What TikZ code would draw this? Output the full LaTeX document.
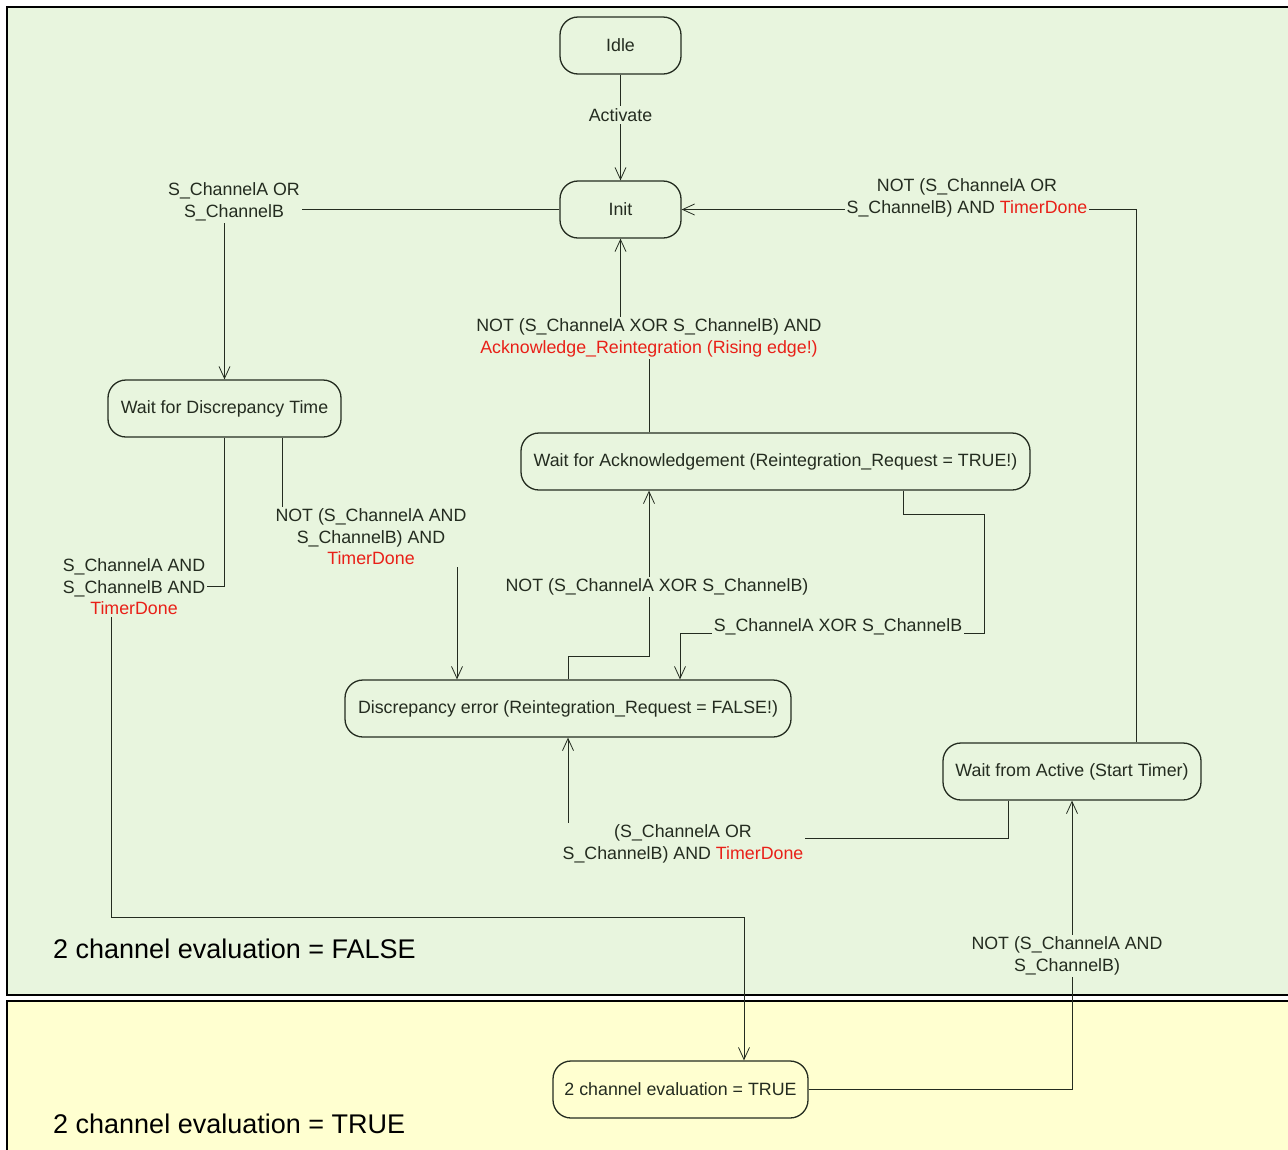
\documentclass[tikz,border=0pt]{standalone}
\usepackage{fontspec}
\setmainfont{Liberation Sans}
\usetikzlibrary{arrows.meta}
\definecolor{bggreen}{RGB}{232,245,222}
\definecolor{bgyellow}{RGB}{255,255,208}
\definecolor{tred}{RGB}{232,32,24}
\definecolor{linec}{RGB}{36,44,32}
\newcommand{\usc}{\char`\_}
\newcommand{\rd}[1]{\textcolor{tred}{#1}}
\begin{document}
\begin{tikzpicture}[x=1pt,y=-1pt,
  every node/.style={font=\fontsize{17.8}{21.5}\selectfont, text=linec},
  state/.style={draw=linec, line width=1.3pt, rounded corners=18pt, minimum height=57pt, inner sep=0pt},
  conn/.style={draw=linec, line width=0.8pt, -{Straight Barb[length=12pt,width=11pt]}},
  lbl/.style={align=center, inner sep=2pt},
  lblg/.style={lbl, fill=bggreen},
  region/.style={draw=black, line width=1.6pt},
  regtext/.style={font=\fontsize{27}{30}\selectfont, text=black, anchor=west, inner sep=0pt}]
\useasboundingbox (0,0) rectangle (1288,1149);
\clip (0,0) rectangle (1288,1149);
% regions
\path[region, fill=bggreen] (7,7) rectangle (1300,995);
\path[region, fill=bgyellow] (7,1001) rectangle (1300,1170);
\node[regtext] (rfalse) at (53,949) {2 channel evaluation = FALSE};
\node[regtext] (rtrue) at (53,1124) {2 channel evaluation = TRUE};
% states
\node[state, minimum width=121pt] (idle) at (620.5,45.5) {Idle};
\node[state, minimum width=121pt] (init) at (620.5,209.5) {Init};
\node[state, minimum width=233pt] (wdt) at (224.5,408.5) {Wait for Discrepancy Time};
\node[state, minimum width=509pt] (ack) at (775.5,461.5) {Wait for Acknowledgement (Reintegration\usc Request = TRUE!)};
\node[state, minimum width=446pt] (derr) at (568,708.5) {Discrepancy error (Reintegration\usc Request = FALSE!)};
\node[state, minimum width=258pt] (wfa) at (1072,771.5) {Wait from Active (Start Timer)};
\node[state, minimum width=255pt] (true) at (680.5,1089.5) {2 channel evaluation = TRUE};
% connectors
\draw[conn] (idle) -- (init);
\draw[conn] (init.west) -| (wdt.north);
\draw[conn] (1136,0 |- wfa.north) |- (init.east);
\draw[conn] (649,0 |- ack.north) -- (649,338) -- (620.5,338) -- (init.south);
\draw[conn] (282,0 |- wdt.south) -- (282,537) -- (457,537) -- (457,0 |- derr.north);
\draw[conn] (wdt.south) |- (111,586) -- (111,917) -| (744,0 |- true.north);
\draw[conn] (903,0 |- ack.south) |- (984,514) |- (680,633) -- (680,0 |- derr.north);
\draw[conn] (derr.north) |- (649,656) -- (649,0 |- ack.south);
\draw[conn] (1008,0 |- wfa.south) |- (568,838) -- (derr.south);
\draw[conn] (true.east) -| (wfa.south);
% labels
\node[lblg] (lact) at (620.5,115) {Activate};
\node[lblg] (lor) at (234,202) {S\usc ChannelA OR\\S\usc ChannelB};
\node[lblg] (lnotor) at (967,198) {NOT (S\usc ChannelA OR\\S\usc ChannelB) AND \rd{TimerDone}};
\node[lblg] (lackr) at (649,338) {NOT (S\usc ChannelA XOR S\usc ChannelB) AND\\\rd{Acknowledge\usc Reintegration (Rising edge!)}};
\node[lblg] (lnotand) at (371,537) {NOT (S\usc ChannelA AND\\S\usc ChannelB) AND\\\rd{TimerDone}};
\node[lblg] (land) at (134,587) {S\usc ChannelA AND\\S\usc ChannelB AND\\\rd{TimerDone}};
\node[lblg] (lxor) at (838,627) {S\usc ChannelA XOR S\usc ChannelB};
\node[lblg] (lnxor) at (657,587) {NOT (S\usc ChannelA XOR S\usc ChannelB)};
\node[lblg] (lortd) at (683,844) {(S\usc ChannelA OR\\S\usc ChannelB) AND \rd{TimerDone}};
\node[lblg] (lnotand2) at (1067,956) {NOT (S\usc ChannelA AND\\S\usc ChannelB)};
\end{tikzpicture}
\end{document}
